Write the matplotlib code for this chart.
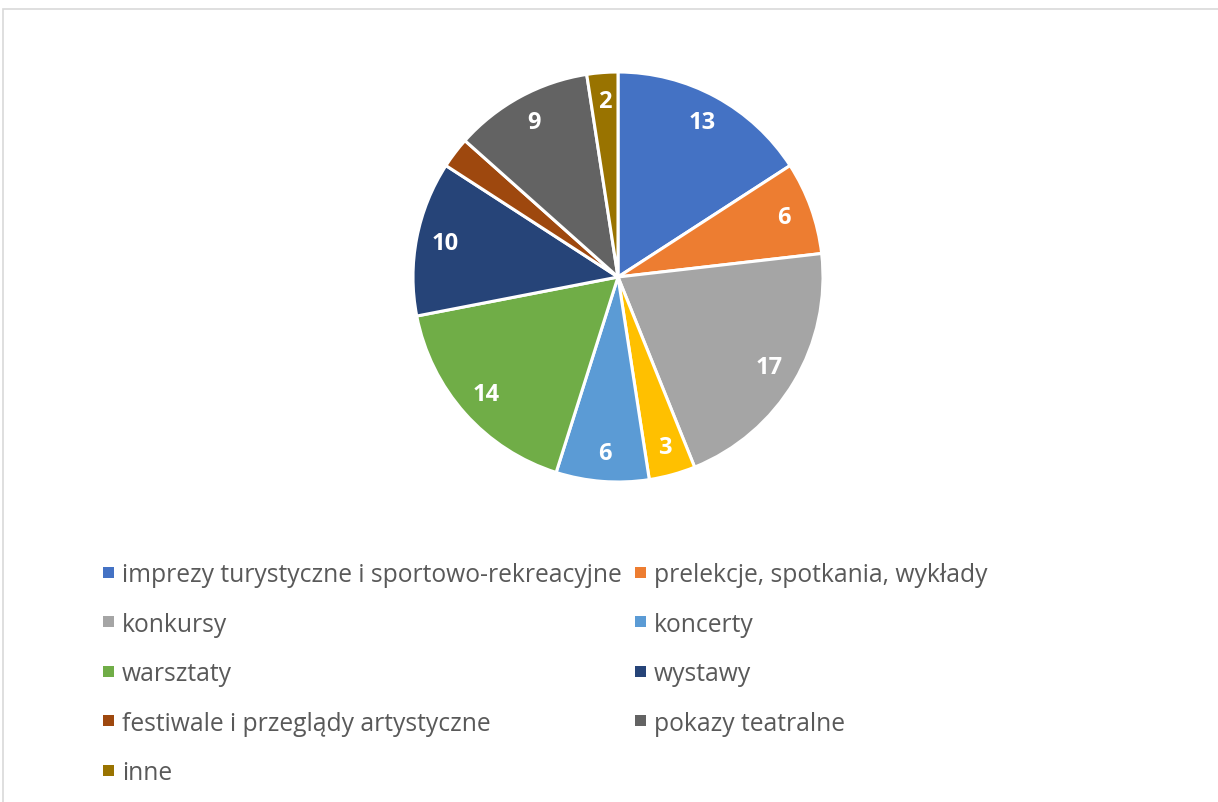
import matplotlib
matplotlib.use("Agg")
import matplotlib.pyplot as plt
from matplotlib.patches import Rectangle
import numpy as np

# Slice data, clockwise from 12 o'clock
categories = [
    "imprezy turystyczne i sportowo-rekreacyjne",
    "prelekcje, spotkania, wykłady",
    "konkursy",
    "",  # yellow slice, no legend entry
    "koncerty",
    "warsztaty",
    "wystawy",
    "festiwale i przeglądy artystyczne",
    "pokazy teatralne",
    "inne",
]
values = [13, 6, 17, 3, 6, 14, 10, 2, 9, 2]
show_label = [True, True, True, True, True, True, True, False, True, True]
colors = ["#4472C4", "#ED7D31", "#A5A5A5", "#FFC000", "#5B9BD5",
          "#70AD47", "#264478", "#9E480E", "#636363", "#997300"]

W, H = 1218, 803
fig = plt.figure(figsize=(W / 100, H / 100), dpi=100)
fig.patch.set_facecolor("white")

# outer chart frame
fig.add_artist(Rectangle((3 / W, -0.01), 1.05, 1 - 10 / H + 0.01,
                         transform=fig.transFigure, fill=False,
                         edgecolor="#D9D9D9", linewidth=1.2))

cx, cy, r = 618, 278, 205
ax = fig.add_axes([(cx - r) / W, 1 - (cy + r) / H, 2 * r / W, 2 * r / H])
wedges, _ = ax.pie(values, colors=colors, startangle=90, counterclock=False,
                   wedgeprops=dict(edgecolor="white", linewidth=2.2))
ax.set_xlim(-1, 1)
ax.set_ylim(-1, 1)
ax.set_aspect("equal")
ax.axis("off")

total = sum(values)
start = 90.0
for v, show in zip(values, show_label):
    span = 360.0 * v / total
    mid = np.deg2rad(start - span / 2)
    start -= span
    if show:
        ax.text(0.86 * np.cos(mid), 0.86 * np.sin(mid), str(v),
                ha="center", va="center", color="white", fontsize=17,
                fontweight="bold", family="Open Sans")

# two-column legend laid out row by row
entries = [(n, c) for n, c in zip(categories, colors) if n]
col_x = [103, 635]
row_y0, row_dy = 573, 49.5
for i, (name, col) in enumerate(entries):
    row, c = divmod(i, 2)
    x = col_x[c]
    y = row_y0 + row * row_dy
    fig.add_artist(Rectangle((x / W, 1 - (y + 5.5) / H), 11 / W, 11 / H,
                             transform=fig.transFigure, facecolor=col,
                             edgecolor="none"))
    fig.text((x + 19) / W, 1 - y / H, name, ha="left", va="center_baseline",
             color="#595959", fontsize=17.7, family="Open Sans")

fig.savefig("out.png", dpi=100, facecolor="white")
